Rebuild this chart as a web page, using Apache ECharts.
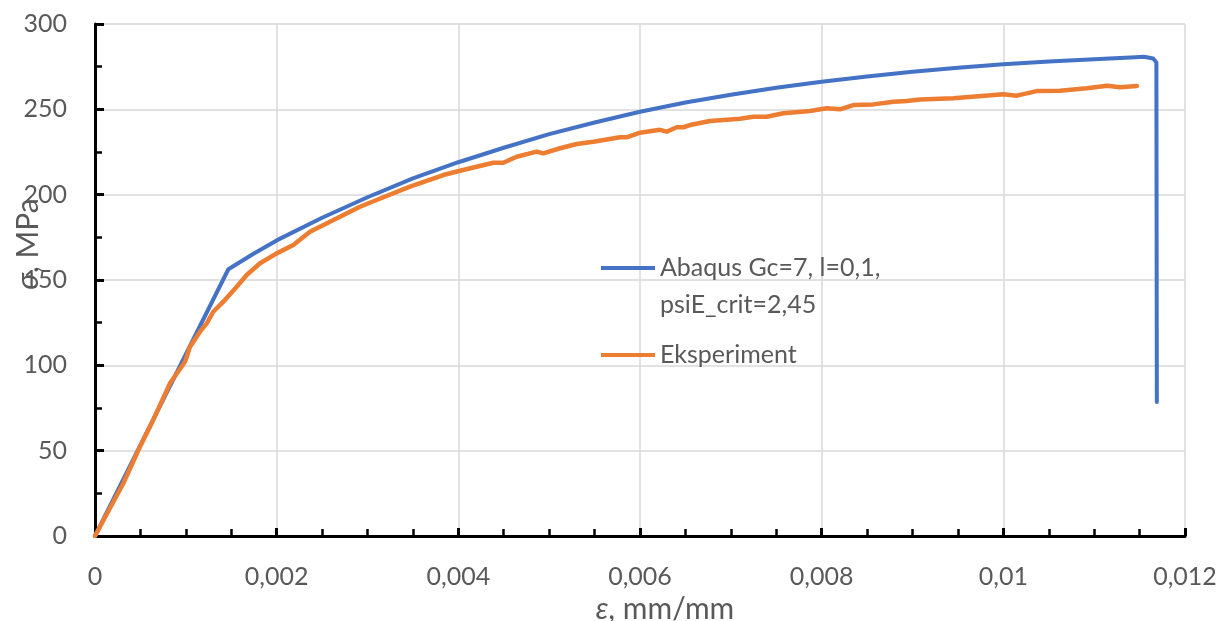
<!DOCTYPE html>
<html>
<head>
<meta charset="utf-8">
<script src="https://cdn.jsdelivr.net/npm/echarts@6/dist/echarts.min.js"></script>
<style>
html,body{margin:0;padding:0;background:#fff;}
#chart{width:1226px;height:621px;}
</style>
</head>
<body>
<div id="chart"></div>
<script>
// Strain (mm/mm) and stress (MPa) values
const abaqusStrain = [0, 0.001468, 0.00175, 0.002, 0.0025, 0.003, 0.0035, 0.004, 0.0045, 0.005, 0.0055, 0.006, 0.0065, 0.007, 0.0075, 0.008, 0.0085, 0.009, 0.0095, 0.01, 0.0105, 0.011, 0.0114, 0.01155, 0.01165, 0.011685, 0.01169];
const abaqusStress = [0, 156.3, 165.5, 173.2, 186.5, 198.5, 209.5, 219, 227.5, 235.5, 242.3, 248.6, 254, 258.6, 262.6, 266.2, 269.3, 272, 274.4, 276.4, 278, 279.4, 280.4, 280.8, 279.8, 277.5, 78.5];

const expStrain = [0, 0.000312, 0.000495, 0.000624, 0.000826, 0.000991, 0.001046, 0.001156, 0.00123, 0.001302, 0.001413, 0.00156, 0.00167, 0.001817, 0.002, 0.002183, 0.002367, 0.002917, 0.0031, 0.003468, 0.003835, 0.004018, 0.004385, 0.004495, 0.004642, 0.004863, 0.004936, 0.00512, 0.005303, 0.005486, 0.00578, 0.005853, 0.006, 0.00622, 0.006294, 0.006404, 0.006477, 0.00655, 0.00677, 0.0071, 0.007247, 0.007394, 0.007578, 0.007872, 0.008055, 0.008202, 0.008349, 0.008569, 0.008789, 0.008936, 0.009083, 0.00945, 0.01, 0.010147, 0.010367, 0.010624, 0.010918, 0.01114, 0.011287, 0.01147];
const expStress = [0, 30.9, 52.3, 66.0, 89.5, 102.1, 110.9, 119.7, 124.6, 131.4, 137.3, 146.1, 152.9, 159.8, 165.6, 170.5, 178.3, 192.9, 196.9, 204.7, 211.5, 214.0, 218.7, 218.7, 222.2, 225.2, 224.2, 227.2, 229.7, 231.0, 233.6, 233.6, 236.3, 238.0, 236.9, 239.5, 239.5, 240.8, 243.2, 244.5, 245.7, 245.7, 247.7, 249.0, 250.6, 250.0, 252.5, 252.9, 254.5, 254.9, 255.7, 256.5, 258.8, 258.0, 260.7, 260.9, 262.3, 263.8, 262.9, 263.7];

const seriesNames = ['Abaqus Gc=7, l=0,1,\npsiE_crit=2,45', 'Eksperiment'];
const xAxisTitle = '{i|ε}, mm/mm';
const yAxisTitle = '{i|σ}, MPa';

const zip = (a, b) => a.map((v, i) => [v, b[i]]);
const FONT = 'Lato';
const GREY = '#595959';

// legend icons: a 4px line placed at the height of the first text line
const iconTop = 'path://M0,0L54,0L54,4L0,4Z M0,40L54,40L54,40.01L0,40.01Z';
const iconMid = 'path://M0,0L54,0L54,0.01L0,0.01Z M0,18L54,18L54,22L0,22Z M0,40L54,40L54,40.01L0,40.01Z';

const chart = echarts.init(document.getElementById('chart'), null, {renderer: 'canvas'});
chart.setOption({
  backgroundColor: '#fff',
  animation: false,
  textStyle: {fontFamily: FONT},
  grid: {left: 95, right: 41, top: 24, bottom: 85, containLabel: false, outerBoundsMode: 'none'},
  legend: {
    orient: 'vertical',
    left: 596,
    top: 244,
    itemWidth: 54,
    itemHeight: 40,
    itemGap: 12,
    textStyle: {fontFamily: FONT, fontSize: 25, color: GREY, lineHeight: 37},
    data: [{name: seriesNames[0], icon: iconTop}, {name: seriesNames[1], icon: iconMid}]
  },
  xAxis: {
    type: 'value',
    min: 0, max: 0.012, interval: 0.002,
    name: xAxisTitle,
    nameLocation: 'middle',
    nameGap: 54,
    nameTextStyle: {fontFamily: FONT, fontSize: 30, color: GREY, padding: [0, 0, 0, 50],
      rich: {i: {fontFamily: FONT, fontStyle: 'italic', fontSize: 30, color: GREY}}},
    axisLine: {show: true, onZero: false, lineStyle: {color: '#000', width: 3}},
    axisTick: {show: true, inside: true, length: 8, lineStyle: {color: '#000', width: 3}},
    minorTick: {show: true, splitNumber: 4, length: 7, lineStyle: {color: '#000', width: 2.5}},
    axisLabel: {fontFamily: FONT, fontSize: 25, color: GREY, margin: 28,
      formatter: v => String(+v.toFixed(3)).replace('.', ',')},
    splitLine: {show: true, lineStyle: {color: '#d9d9d9', width: 1.5}}
  },
  yAxis: {
    type: 'value',
    min: 0, max: 300, interval: 50,
    axisLine: {show: true, onZero: false, lineStyle: {color: '#000', width: 3}},
    axisTick: {show: true, inside: true, length: 9, lineStyle: {color: '#000', width: 3}},
    minorTick: {show: true, splitNumber: 2, length: 7, lineStyle: {color: '#000', width: 2.5}},
    axisLabel: {fontFamily: FONT, fontSize: 25, color: GREY, margin: 28},
    splitLine: {show: true, lineStyle: {color: '#d9d9d9', width: 1.5}}
  },
  graphic: [{
    type: 'text',
    x: 28, y: 244,
    rotation: Math.PI / 2,
    style: {text: yAxisTitle, fontFamily: FONT, fontSize: 30, fill: GREY, align: 'center', verticalAlign: 'middle',
      rich: {i: {fontFamily: FONT, fontStyle: 'italic', fontSize: 30, fill: GREY}}}
  }],
  series: [
    {
      name: seriesNames[0], type: 'line', data: zip(abaqusStrain, abaqusStress),
      showSymbol: false, symbol: 'none', smooth: false,
      lineStyle: {color: '#4472C4', width: 4, join: 'round', cap: 'round'},
      itemStyle: {color: '#4472C4'}
    },
    {
      name: seriesNames[1], type: 'line', data: zip(expStrain, expStress),
      showSymbol: false, symbol: 'none', smooth: false,
      lineStyle: {color: '#ED7D31', width: 4.5, join: 'round', cap: 'round'},
      itemStyle: {color: '#ED7D31'}
    }
  ]
});
</script>
</body>
</html>
